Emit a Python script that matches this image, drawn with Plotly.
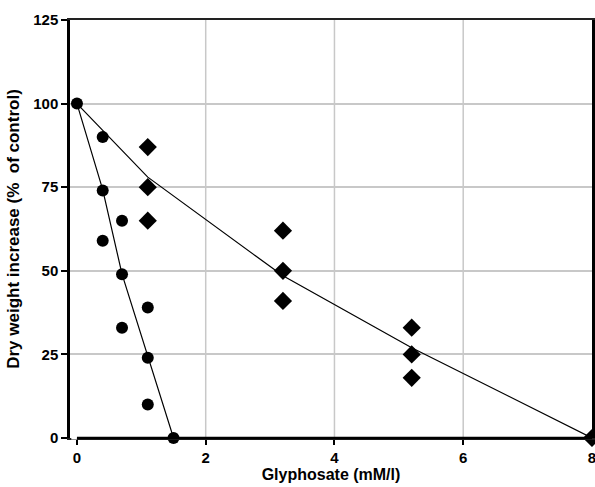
import plotly.graph_objects as go

# Series 1 (circles)
circ_x = [0, 0.4, 0.4, 0.4, 0.7, 0.7, 0.7, 1.1, 1.1, 1.1, 1.5]
circ_y = [100, 90, 74, 59, 65, 49, 33, 39, 24, 10, 0]
circ_fit_x = [0, 0.4, 0.7, 1.1, 1.5]
circ_fit_y = [100, 74.3, 49, 24.3, 0]

# Series 2 (diamonds)
diam_x = [1.1, 1.1, 1.1, 3.2, 3.2, 3.2, 5.2, 5.2, 5.2, 8]
diam_y = [87, 75, 65, 62, 50, 41, 33, 25, 18, 0]
diam_fit_x = [0, 1.1, 3.2, 5.2, 8]
diam_fit_y = [100, 78, 48.5, 27, 0]

x_ticks = [0, 2, 4, 6, 8]
y_ticks = [0, 25, 50, 75, 100, 125]
grid_x = [2, 4, 6]

FONT = "Liberation Sans, Arial, sans-serif"
X_RANGE = [-0.108, 8.0005]
Y_RANGE = [0, 125]

fig = go.Figure()
fig.add_trace(go.Scatter(x=circ_fit_x, y=circ_fit_y, mode="lines",
                         line=dict(color="black", width=1.2), cliponaxis=False))
fig.add_trace(go.Scatter(x=diam_fit_x, y=diam_fit_y, mode="lines",
                         line=dict(color="black", width=1.2), cliponaxis=False))
fig.add_trace(go.Scatter(x=diam_x, y=diam_y, mode="markers",
                         marker=dict(symbol="diamond", size=14, color="black"),
                         cliponaxis=False))
fig.add_trace(go.Scatter(x=circ_x, y=circ_y, mode="markers",
                         marker=dict(symbol="circle", size=12, color="black"),
                         cliponaxis=False))

shapes = []
for gx in grid_x:
    shapes.append(dict(type="line", xref="x", yref="y", x0=gx, x1=gx, y0=0, y1=125,
                       line=dict(color="#c8c8c8", width=1.5), layer="below"))
# white cover for the axis-line stub left of x=0, then bottom axis line from 0 to 8
shapes.append(dict(type="line", xref="x", yref="paper", x0=X_RANGE[0] + 0.02, x1=0, y0=0, y1=0,
                   line=dict(color="white", width=3)))
shapes.append(dict(type="line", xref="x", yref="paper", x0=0, x1=8, y0=0, y1=0,
                   line=dict(color="black", width=2.5)))

fig.update_layout(
    width=595, height=487,
    margin=dict(l=70, r=3, t=20, b=49, autoexpand=False),
    plot_bgcolor="white", paper_bgcolor="white",
    showlegend=False,
    shapes=shapes,
    font=dict(family=FONT, size=15, color="black", weight="bold"),
    xaxis=dict(range=X_RANGE, tickvals=x_ticks, ticktext=[str(v) for v in x_ticks],
               showgrid=False, zeroline=False, showline=True, mirror=True,
               linecolor="#222222", linewidth=2,
               ticks="outside", ticklen=5, tickwidth=2, tickcolor="black",
               ticklabeloverflow="allow", automargin=False,
               tickfont=dict(family=FONT, size=15, weight="bold"),
               title=dict(text="Glyphosate (mM/l)", standoff=4,
                          font=dict(family=FONT, size=16, weight="bold"))),
    yaxis=dict(range=Y_RANGE, tickvals=y_ticks, ticktext=[str(v) for v in y_ticks],
               showgrid=True, gridcolor="#c8c8c8", gridwidth=1.5,
               zeroline=False, showline=True, mirror=True, linecolor="black", linewidth=2.5,
               ticks="outside", ticklen=6, tickwidth=2, tickcolor="black",
               automargin=False,
               tickfont=dict(family=FONT, size=15, weight="bold"),
               title=dict(text="Dry weight increase (%\u00a0 of control)", standoff=10,
                          font=dict(family=FONT, size=17, weight="bold"))),
)

fig.write_html("out.html", config={"displayModeBar": False},
               post_script="document.body.style.margin='0';document.body.style.overflow='hidden';")
